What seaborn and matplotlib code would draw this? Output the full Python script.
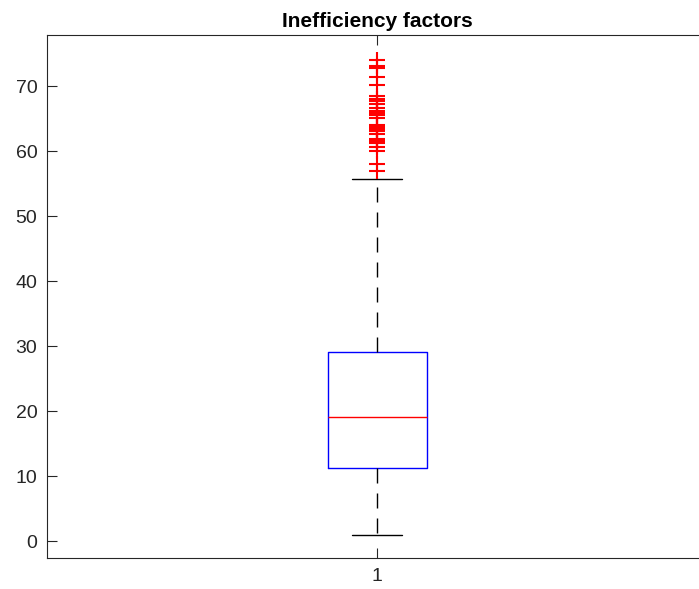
import matplotlib
matplotlib.use("Agg")
import matplotlib.pyplot as plt
import seaborn as sns
import pandas as pd

# Summary statistics of the inefficiency factors
group = ["1"]
whisker_low = [0.9]
q1 = [11.2]
median = [19.1]
q3 = [29.1]
whisker_high = [55.7]

# Points beyond the upper whisker
outliers = [74.0, 73.1, 72.8, 71.4, 70.1, 68.4, 68.0, 67.7, 67.3, 66.6,
            66.2, 65.9, 65.5, 65.1, 64.0, 63.7, 63.4, 63.1, 62.6, 61.8,
            61.5, 61.2, 60.7, 60.0, 58.0, 56.9]

sns.set_style("white")
plt.rcParams["font.family"] = ["Liberation Sans", "DejaVu Sans"]

fig = plt.figure(figsize=(6.99, 5.89), dpi=100)
ax = fig.add_axes([47 / 699, 1 - 558 / 589, 660 / 699, 523 / 589])

stats = [dict(label=g, whislo=wl, q1=a, med=m, q3=b, whishi=wh, fliers=[])
         for g, wl, a, m, b, wh in zip(group, whisker_low, q1, median, q3, whisker_high)]
ax.bxp(stats, positions=[1], widths=0.15, showfliers=False,
       boxprops=dict(color="#0000ff", linewidth=1.0),
       medianprops=dict(color="#ff0000", linewidth=1.0),
       whiskerprops=dict(color="black", linewidth=1.0, linestyle=(0, (10.8, 7.2))),
       capprops=dict(color="black", linewidth=1.0),
       capwidths=0.075)

flier_df = pd.DataFrame({"x": [1.0] * len(outliers), "value": outliers})
sns.scatterplot(data=flier_df, x="x", y="value", marker="+", color="#ff0000",
                s=130, linewidth=1.5, ax=ax, legend=False, zorder=3)

ax.set_xlim(0.5, 1.5)
ax.set_ylim(-2.57, 77.85)
ax.set_xticks([1])
ax.set_xticklabels(group)
ax.set_yticks(range(0, 80, 10))
ax.set_xlabel("")
ax.set_ylabel("")
ax.tick_params(axis="both", direction="in", length=7, width=0.8, color="#262626",
               labelsize=14, labelcolor="#262626", left=True, bottom=True,
               top=True, right=False, pad=7)
for side in ["left", "bottom", "top", "right"]:
    ax.spines[side].set_color("#262626")
    ax.spines[side].set_linewidth(0.8)
    ax.spines[side].set_visible(True)

ax.set_title("Inefficiency factors", fontsize=15, fontweight="bold",
             color="black", pad=6)

fig.savefig("out.png", dpi=100)
